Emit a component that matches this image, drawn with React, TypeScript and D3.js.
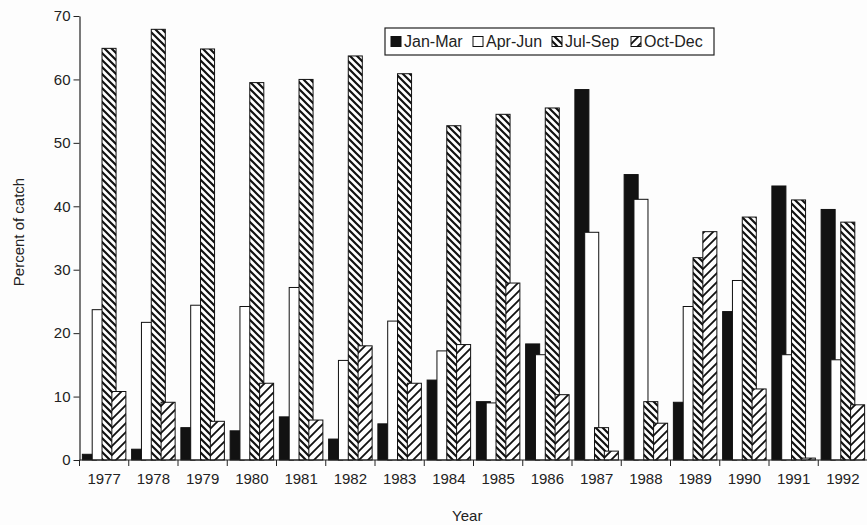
import React, { useRef, useEffect } from "react";
import * as d3 from "d3";

const years = ["1977", "1978", "1979", "1980", "1981", "1982", "1983", "1984", "1985", "1986", "1987", "1988", "1989", "1990", "1991", "1992"];
const seriesNames = ["Jan-Mar", "Apr-Jun", "Jul-Sep", "Oct-Dec"];
const janMar = [0.9, 1.7, 5.1, 4.6, 6.8, 3.3, 5.7, 12.6, 9.2, 18.3, 58.4, 45.0, 9.1, 23.4, 43.2, 39.5];
const aprJun = [23.7, 21.7, 24.4, 24.2, 27.2, 15.7, 21.9, 17.2, 9.0, 16.6, 35.9, 41.1, 24.2, 28.3, 16.6, 15.8];
const julSep = [64.9, 67.9, 64.8, 59.5, 60.0, 63.7, 60.9, 52.7, 54.5, 55.5, 5.1, 9.2, 31.9, 38.3, 41.0, 37.5];
const octDec = [10.8, 9.1, 6.1, 12.1, 6.3, 18.0, 12.1, 18.2, 27.9, 10.3, 1.4, 5.8, 36.0, 11.2, 0.3, 8.7];
const yTicks = [0, 10, 20, 30, 40, 50, 60, 70];

const FONT = "'Liberation Sans', Arial, sans-serif";

export default function App() {
  const svgRef = useRef<SVGSVGElement>(null);

  useEffect(() => {
    const W = 867, H = 525;
    const margin = { top: 16, right: -0.5, bottom: 65, left: 79.5 };
    const svg = d3.select(svgRef.current).attr("width", W).attr("height", H);
    svg.selectAll("*").remove();

    svg.append("rect").attr("width", W).attr("height", H).attr("fill", "#fdfdfd");

    const defs = svg.append("defs");
    // Jul-Sep: dense downward diagonal
    defs.append("pattern")
      .attr("id", "pJS").attr("patternUnits", "userSpaceOnUse")
      .attr("width", 7).attr("height", 7)
      .call((p) => {
        p.append("rect").attr("width", 7).attr("height", 7).attr("fill", "#fff");
        p.append("path").attr("d", "M-2,5 L2,9 M0,0 L7,7 M5,-2 L9,2")
          .attr("stroke", "#111").attr("stroke-width", 2.2);
      });
    // Oct-Dec: wider upward diagonal
    defs.append("pattern")
      .attr("id", "pOD").attr("patternUnits", "userSpaceOnUse")
      .attr("width", 9).attr("height", 9)
      .call((p) => {
        p.append("rect").attr("width", 9).attr("height", 9).attr("fill", "#fff");
        p.append("path").attr("d", "M-2,2 L2,-2 M0,9 L9,0 M7,11 L11,7")
          .attr("stroke", "#111").attr("stroke-width", 1.8);
      });

    const fills = ["#121212", "#ffffff", "url(#pJS)", "url(#pOD)"];
    const series = [janMar, aprJun, julSep, octDec];

    const x = d3.scaleBand().domain(years).range([margin.left, W - margin.right]);
    const y = d3.scaleLinear().domain([0, 70]).range([H - margin.bottom, margin.top]);

    // Excel-like layout: gap width 41%, overlap 30%
    const band = x.bandwidth();
    const barW = band / (1 + 3 * 0.7 + 0.41);
    const step = barW * 0.7;
    const offset = (band - (barW + 3 * step)) / 2;

    const g = svg.append("g");
    series.forEach((vals, s) => {
      g.selectAll(`.bar${s}`)
        .data(vals)
        .enter()
        .append("rect")
        .attr("x", (d, i) => x(years[i])! + offset + s * step)
        .attr("y", (d) => y(d))
        .attr("width", barW)
        .attr("height", (d) => y(0) - y(d))
        .attr("fill", fills[s])
        .attr("stroke", "#111")
        .attr("stroke-width", 1);
    });

    // Y axis
    const yAxis = svg.append("g")
      .attr("transform", `translate(${margin.left},0)`)
      .call(d3.axisLeft(y).tickValues(yTicks).tickSize(6).tickPadding(3).tickSizeOuter(0));
    yAxis.select(".domain").attr("stroke", "#222").attr("stroke-width", 1.2);
    yAxis.selectAll("line").attr("stroke", "#222");
    yAxis.selectAll("text").attr("font-size", 15).attr("font-family", FONT).attr("fill", "#222");

    // X axis: ticks at category boundaries, labels at centres
    const base = y(0);
    svg.append("line")
      .attr("x1", margin.left).attr("x2", W).attr("y1", base).attr("y2", base)
      .attr("stroke", "#222").attr("stroke-width", 1.2);
    svg.selectAll(".xt")
      .data(years)
      .enter()
      .append("line")
      .attr("x1", (d) => x(d)!).attr("x2", (d) => x(d)!)
      .attr("y1", base).attr("y2", base + 6)
      .attr("stroke", "#222");
    svg.selectAll(".xl")
      .data(years)
      .enter()
      .append("text")
      .attr("x", (d) => x(d)! + band / 2)
      .attr("y", base + 24)
      .attr("text-anchor", "middle")
      .attr("font-size", 15)
      .attr("font-family", FONT)
      .attr("fill", "#222")
      .text((d) => d);

    // axis titles
    svg.append("text")
      .attr("x", (margin.left + W) / 2 - 6).attr("y", 521)
      .attr("text-anchor", "middle").attr("font-size", 15)
      .attr("font-family", FONT).attr("fill", "#222").text("Year");
    svg.append("text")
      .attr("transform", `translate(24,232) rotate(-90)`)
      .attr("text-anchor", "middle").attr("font-size", 15)
      .attr("font-family", FONT).attr("fill", "#222").text("Percent of catch");

    // legend
    const lg = svg.append("g");
    lg.append("rect")
      .attr("x", 385).attr("y", 28).attr("width", 329).attr("height", 27)
      .attr("fill", "#fff").attr("stroke", "#222").attr("stroke-width", 1.2);
    const itemX = [391, 473, 552, 631];
    seriesNames.forEach((name, s) => {
      lg.append("rect")
        .attr("x", itemX[s]).attr("y", 36.5).attr("width", 10).attr("height", 10)
        .attr("fill", fills[s]).attr("stroke", "#111").attr("stroke-width", 1);
      lg.append("text")
        .attr("x", itemX[s] + 13).attr("y", 47)
        .attr("font-size", 16).attr("font-family", FONT).attr("fill", "#222")
        .text(name);
    });
  }, []);

  return (
    <div style={{ position: "absolute", left: 0, top: 0 }}>
      <svg ref={svgRef} style={{ display: "block" }}></svg>
    </div>
  );
}
